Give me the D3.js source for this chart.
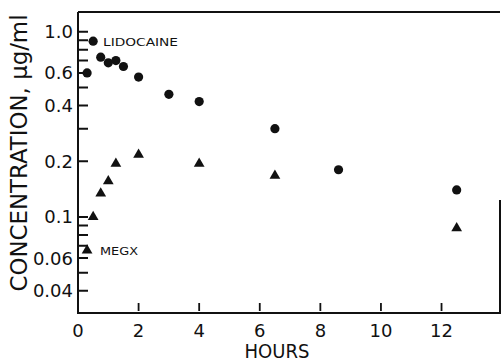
<!DOCTYPE html>
<html>
<head>
<meta charset="utf-8">
<script src="https://cdn.jsdelivr.net/npm/d3@7"></script>
<style>
  body { margin: 0; background: #fff; }
  svg { display: block; }
  text { font-family: "DejaVu Sans", sans-serif; fill: #111; }
</style>
</head>
<body>
<svg width="502" height="363"></svg>
<script>
// data
const lidoHours = [0.3, 0.5, 0.75, 1, 1.25, 1.5, 2, 3, 4, 6.5, 8.6, 12.5];
const lidoConc  = [0.6, 0.89, 0.73, 0.68, 0.70, 0.65, 0.57, 0.46, 0.42, 0.30, 0.18, 0.14];
const megxHours = [0.3, 0.5, 0.75, 1, 1.25, 2, 4, 6.5, 12.5];
const megxConc  = [0.066, 0.10, 0.134, 0.156, 0.194, 0.217, 0.194, 0.167, 0.087];

const xTicks = [0, 2, 4, 6, 8, 10, 12];
const yLabelTicks = [1.0, 0.6, 0.4, 0.2, 0.1, 0.06, 0.04];
const yTickLabels = ["1.0", "0.6", "0.4", "0.2", "0.1", "0.06", "0.04"];
const yMinorTicks = [0.9, 0.8, 0.7, 0.5, 0.3, 0.09, 0.08, 0.07, 0.05];

const svg = d3.select("svg");
const margin = {top: 12, right: 2, bottom: 50, left: 78};
const width = 502, height = 363;
const x0 = margin.left, y0 = height - margin.bottom;

const x = d3.scaleLinear()
  .domain([0, 13.93])
  .range([margin.left, width - margin.right]);
const y = d3.scaleLog()
  .domain([0.0303, 1.28])
  .range([y0, margin.top]);

// frame: top, right (lower part only, as in the scan) and the two axis lines
svg.append("path")
  .attr("d", `M${x0},${margin.top}H${width - margin.right}M${width - margin.right},200V${y0}H${x0}V${margin.top}`)
  .attr("fill", "none")
  .attr("stroke", "#111")
  .attr("stroke-width", 2);

// y ticks, pointing inward
svg.append("path")
  .attr("d", yLabelTicks.concat(yMinorTicks).map(d => `M${x0},${y(d)}h10`).join(""))
  .attr("stroke", "#111")
  .attr("stroke-width", 2);

// x ticks
svg.append("path")
  .attr("d", xTicks.filter(d => d > 0).map(d => `M${x(d)},${y0 - 2}v-8`).join(""))
  .attr("stroke", "#111")
  .attr("stroke-width", 1.8);

// tick labels
svg.append("g")
  .selectAll("text")
  .data(yLabelTicks)
  .join("text")
    .attr("x", x0 - 5)
    .attr("y", d => y(d))
    .attr("dy", "0.36em")
    .attr("text-anchor", "end")
    .style("font-size", "18px")
    .text((d, i) => yTickLabels[i]);

svg.append("g")
  .selectAll("text")
  .data(xTicks)
  .join("text")
    .attr("x", d => x(d))
    .attr("y", 337)
    .attr("text-anchor", "middle")
    .style("font-size", "18px")
    .text(d3.format("d"));

// axis titles
svg.append("text")
  .attr("transform", "translate(27,153) rotate(-90)")
  .attr("text-anchor", "middle")
  .style("font-size", "23px")
  .attr("textLength", 277)
  .attr("lengthAdjust", "spacingAndGlyphs")
  .text("CONCENTRATION, μg/ml");

svg.append("text")
  .attr("x", 277).attr("y", 358)
  .attr("text-anchor", "middle")
  .style("font-size", "20px")
  .attr("textLength", 65)
  .attr("lengthAdjust", "spacingAndGlyphs")
  .text("HOURS");

// markers
svg.append("g")
  .selectAll("circle")
  .data(lidoHours.map((h, i) => [h, lidoConc[i]]))
  .join("circle")
    .attr("cx", d => x(d[0]))
    .attr("cy", d => y(d[1]))
    .attr("r", 4.6)
    .attr("fill", "#111");

const tri = d3.symbol().type(d3.symbolTriangle).size(50);
svg.append("g")
  .selectAll("path")
  .data(megxHours.map((h, i) => [h, megxConc[i]]))
  .join("path")
    .attr("transform", d => `translate(${x(d[0])},${y(d[1])})`)
    .attr("d", tri)
    .attr("fill", "#111");

// series labels
svg.append("text")
  .attr("x", 103).attr("y", y(0.89) + 4.5)
  .style("font-size", "11px")
  .attr("textLength", 75)
  .attr("lengthAdjust", "spacingAndGlyphs")
  .text("LIDOCAINE");
svg.append("text")
  .attr("x", 100).attr("y", y(0.066) + 4.5)
  .style("font-size", "11px")
  .attr("textLength", 38)
  .attr("lengthAdjust", "spacingAndGlyphs")
  .text("MEGX");
</script>
</body>
</html>
